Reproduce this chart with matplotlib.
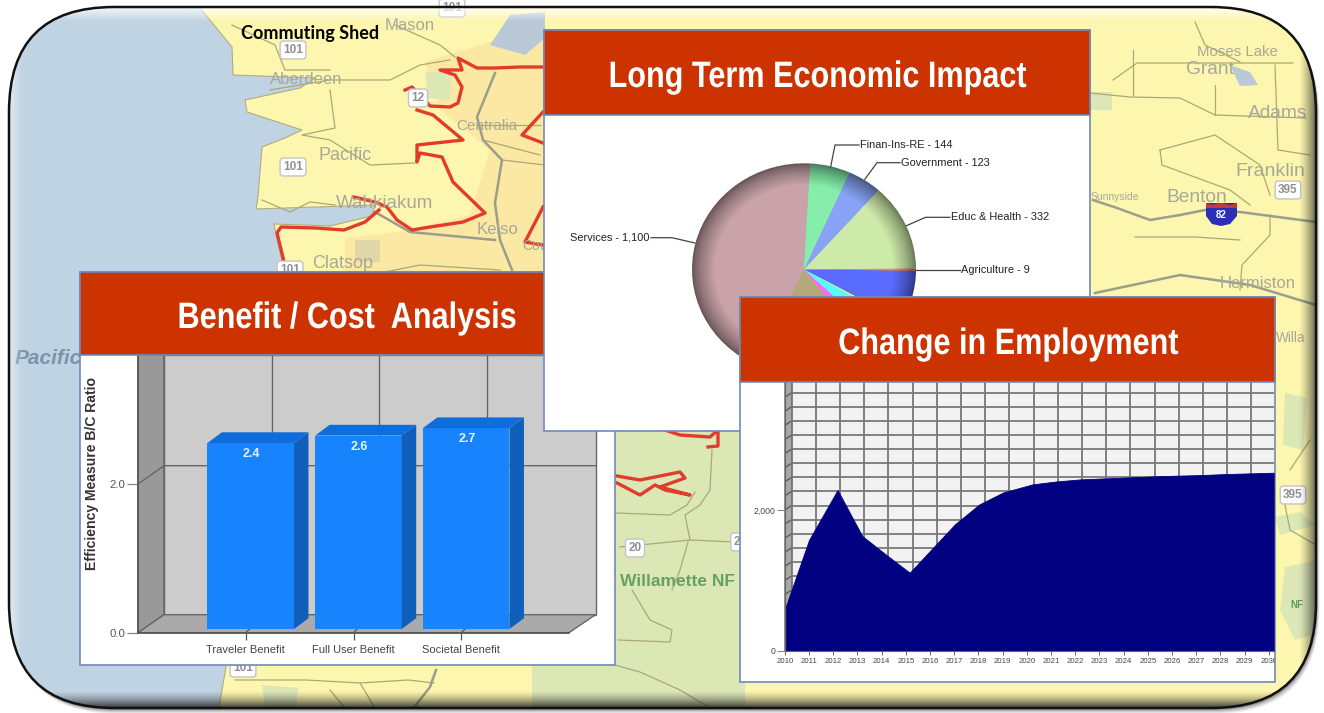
"""Commuting shed map with three overlaid result panels."""
import matplotlib
matplotlib.use("Agg")
import matplotlib.colors as mcolors
import matplotlib.patheffects as pe
import matplotlib.pyplot as plt
import numpy as np
from matplotlib.patches import FancyBboxPatch, Polygon, Rectangle
from matplotlib.transforms import Affine2D

W, H = 1324, 713

# --- chart data ---
BAR_CATEGORIES = ["Traveler Benefit", "Full User Benefit", "Societal Benefit"]
BAR_HEIGHTS = [2.5, 2.6, 2.7]
BAR_LABELS = ["2.4", "2.6", "2.7"]
BAR_YTICKS = [0.0, 2.0]

PIE_VALUES = [1100, 433, 59, 94, 10, 194, 9, 332, 123, 144]
PIE_COLORS = ["#c9a3a9", "#b5a97c", "#ff66ff", "#55fbff", "#f6f66a", "#5a6cff",
              "#ef7f5f", "#cdeaa9", "#88a3f5", "#84eeaa"]

EMP_YEARS = [2010.04, 2011, 2012.18, 2013.2, 2014.2, 2015.16, 2016.1, 2017.04, 2018.04,
             2019.03, 2020.24, 2021.24, 2022.23, 2023.23, 2024.22, 2025.22, 2026.2,
             2027.2, 2028.2, 2029.2, 2030.2]
EMP_VALUES = [629, 1574, 2284, 1631, 1362, 1111, 1456, 1801, 2080, 2250, 2364, 2406,
              2435, 2449, 2463, 2477, 2487, 2496, 2510, 2520, 2529]
EMP_TICK_YEARS = list(range(2010, 2031))

# pie callouts: text, leader points, text anchor
PIE_CALLOUTS = [
    ("Services - 1,100", [(695, 243), (672, 237.7), (651, 237.7)], "right"),
    ("Finan-Ins-RE - 144", [(830.7, 166.7), (835, 145), (859, 145)], "left"),
    ("Government - 123", [(864.8, 179.3), (877, 162.7), (900, 162.7)], "left"),
    ("Educ & Health - 332", [(906.5, 225.7), (925.6, 217.3), (950, 217.3)], "left"),
    ("Agriculture - 9", [(915.5, 270), (960.4, 270)], "left"),
]

# --- background map shapes (pixel positions) ---
OCEAN = [(0, 0), (200, 8), (232, 47), (233, 75), (315, 78), (300, 88), (245, 100), (247, 112),
         (302, 130), (285, 138), (262, 147), (258, 197), (256, 209), (375, 205), (372, 216),
         (330, 226), (274, 224), (284, 270), (270, 450), (226, 667), (218, 713), (0, 713)]
PEACH = [(425, 62), (545, 25), (545, 285), (345, 285), (345, 238), (400, 232), (470, 215),
         (490, 150), (440, 110)]
GREEN_ZONES = [
    [(532, 660), (600, 660), (615, 425), (745, 425), (745, 713), (532, 713)],
    [(1285, 393), (1307, 398), (1303, 450), (1283, 445)],
    [(1275, 517), (1300, 512), (1316, 525), (1280, 535)],
    [(1285, 567), (1320, 560), (1320, 633), (1295, 640), (1280, 610)],
    [(262, 685), (298, 688), (296, 708), (265, 708)],
    [(425, 72), (452, 72), (450, 100), (428, 98)],
    [(1080, 92), (1112, 92), (1112, 110), (1080, 110)],
]
WATER = [
    [(490, 45), (510, 15), (545, 12), (545, 38), (525, 55)],
    [(1230, 65), (1250, 72), (1258, 85), (1240, 86)],
]
TAN_ZONES = [[(355, 240), (380, 240), (380, 262), (355, 262)]]
RED_ROUTES = [
    [(543, 67), (520, 67), (495, 68), (477, 68), (458, 58), (462, 70), (440, 70), (455, 75),
     (462, 87), (458, 103), (450, 107), (430, 106), (420, 95), (412, 87), (405, 90)],
    [(417, 110), (433, 115), (463, 140), (417, 145), (417, 162), (420, 153), (442, 157),
     (453, 182), (485, 213), (463, 222), (430, 227), (412, 230), (397, 220), (387, 207),
     (375, 202), (354, 197)],
    [(379, 210), (365, 222), (344, 230), (316, 228), (281, 227), (277, 233), (286, 270)],
    [(543, 112), (522, 135), (543, 143)],
    [(543, 207), (525, 242), (543, 245)],
    [(665, 430), (680, 435), (710, 437), (718, 430), (718, 446), (708, 447)],
    [(617, 476), (640, 480), (680, 472), (685, 478), (660, 487), (690, 495), (665, 490),
     (655, 485), (640, 495), (617, 483)],
]
MAJOR_ROADS = [
    [(495, 73), (477, 117), (483, 140), (502, 160), (495, 203), (500, 240), (512, 270)],
    [(1093, 200), (1117, 208), (1150, 220), (1180, 215), (1205, 210), (1240, 212), (1316, 222)],
    [(1095, 293), (1180, 275), (1250, 285), (1316, 305)],
    [(436, 670), (430, 687), (412, 710)],
    [(375, 212), (410, 232), (495, 240)],
]
MINOR_ROADS = [
    [(232, 25), (275, 45), (285, 70), (330, 70)],
    [(270, 90), (330, 80), (390, 80), (420, 65), (450, 60)],
    [(330, 90), (335, 128), (302, 135), (330, 140), (370, 165), (415, 163)],
    [(262, 200), (290, 212), (310, 202), (335, 205)],
    [(395, 25), (440, 45), (455, 57)],
    [(285, 270), (345, 280), (420, 265), (500, 270)],
    [(477, 125), (540, 125)], [(483, 140), (540, 155)], [(502, 160), (545, 165)],
    [(1113, 80), (1137, 63), (1293, 63)],
    [(1080, 92), (1130, 97), (1180, 98), (1215, 115), (1306, 118)],
    [(1195, 22), (1205, 45), (1240, 62)],
    [(1160, 150), (1215, 135), (1260, 165), (1270, 195)],
    [(1160, 150), (1162, 165), (1230, 190), (1250, 205)],
    [(1133, 50), (1133, 95)], [(1215, 85), (1215, 115)], [(1275, 65), (1278, 150), (1310, 155)],
    [(1270, 215), (1270, 235), (1242, 265), (1240, 290)],
    [(1135, 237), (1195, 237), (1240, 240)],
    [(1290, 470), (1310, 440)], [(1285, 505), (1290, 530), (1316, 545)],
    [(615, 513), (670, 515), (687, 505), (695, 492)],
    [(620, 547), (690, 540), (735, 542)],
    [(690, 540), (685, 515), (700, 505), (710, 490), (712, 450)],
    [(688, 542), (680, 570), (672, 590)],
    [(632, 590), (650, 620), (672, 630), (670, 642), (618, 640)],
    [(615, 665), (640, 672), (680, 690), (710, 708)],
    [(235, 680), (306, 680), (360, 683), (408, 680), (434, 683)],
    [(330, 690), (345, 708)], [(360, 683), (375, 708)],
]
MAP_LABELS = [
    ("Pacific", 345, 155, 13), ("Wahkiakum", 385, 204, 13.5), ("Aberdeen", 306, 80, 12),
    ("Mason", 410, 25, 12), ("Centralia", 487, 126, 11), ("Clatsop", 343, 263, 13),
    ("Moses Lake", 1237, 52, 10.8), ("Grant", 1210, 70, 13.8), ("Adams", 1278, 113, 13.8),
    ("Franklin", 1270, 171, 14), ("Benton", 1197, 197, 13.8), ("Hermiston", 1258, 284, 12),
    ("Kelso", 497, 229, 12), ("Sunnyside", 1115, 197, 7.5), ("Cowlitz", 545, 246, 10),
    ("Willa", 1291, 338, 9.8),
]
MAP_SHIELDS = [("101", 293, 50), ("101", 293, 167), ("12", 418, 98), ("101", 290, 270),
               ("101", 452, 8), ("395", 1293, 495), ("395", 1288, 190), ("20", 635, 548),
               ("2", 737, 542), ("101", 243, 668)]

HEADER_RED = "#cc3300"
BORDER = "#7189ba"
SANS = "Liberation Sans"

fig = plt.figure(figsize=(W / 100, H / 100), dpi=100, facecolor="white")


class Squeeze(pe.AbstractPathEffect):
    """Narrow a text horizontally around a pixel column, it stays a text."""

    def __init__(self, sx, cx):
        super().__init__()
        self.sx = sx
        self.cx = cx

    def draw_path(self, renderer, gc, tpath, affine, rgbFace=None):
        squeezed = affine + Affine2D().translate(-self.cx, 0).scale(self.sx, 1).translate(self.cx, 0)
        renderer.draw_path(gc, tpath, squeezed, rgbFace)


def px_axes(x0, y0, x1, y1, zorder):
    """Axes placed by pixel box (y downward)."""
    ax = fig.add_axes([x0 / W, 1 - y1 / H, (x1 - x0) / W, (y1 - y0) / H], zorder=zorder)
    return ax


def darken(color, factor):
    return tuple(np.array(mcolors.to_rgb(color)) * factor)


# --- background map ---
bg = px_axes(0, 0, W, H, 0)
bg.set_xlim(0, W)
bg.set_ylim(H, 0)
bg.axis("off")
frame = FancyBboxPatch((9, 7), 1307, 701, boxstyle="round,pad=0,rounding_size=105",
                       fc="none", ec="none", transform=bg.transData)
bg.add_patch(frame)

for off, alpha in [(6, 0.05), (5, 0.07), (4, 0.09), (3, 0.12), (2, 0.16)]:
    bg.add_patch(FancyBboxPatch((9 + off * 0.6, 7 + off), 1307, 701,
                                boxstyle="round,pad=0,rounding_size=105",
                                fc="black", ec="none", alpha=alpha))

clipped = [Rectangle((0, 0), W, H, fc="#fdf6ae", ec="none", zorder=1)]
clipped.append(Polygon(PEACH, fc="#fbe8a2", ec="none", zorder=1.2))
for poly in GREEN_ZONES:
    clipped.append(Polygon(poly, fc="#dce7b6", ec="none", zorder=1.3))
for poly in TAN_ZONES:
    clipped.append(Polygon(poly, fc="#e2d7aa", ec="none", zorder=1.3))
clipped.append(Polygon(OCEAN, fc="#bfd3e2", ec="#b3ab7c", lw=0.8, zorder=1.4))
for poly in WATER:
    clipped.append(Polygon(poly, fc="#b9c9d8", ec="none", zorder=1.4))
for artist in clipped:
    bg.add_patch(artist)
    artist.set_clip_path(frame)

for road in MINOR_ROADS:
    xs, ys = zip(*road)
    line, = bg.plot(xs, ys, color="#aca875", lw=0.9, zorder=2)
    line.set_clip_path(frame)
for road in MAJOR_ROADS:
    xs, ys = zip(*road)
    line, = bg.plot(xs, ys, color="#9b9e8c", lw=1.8, zorder=2.2)
    line.set_clip_path(frame)
for route in RED_ROUTES:
    xs, ys = zip(*route)
    bg.plot(xs, ys, color="#e23b2c", lw=2.4, zorder=3, solid_joinstyle="round")

for name, x, y, size in MAP_LABELS:
    t = bg.text(x, y, name, fontsize=size, color="#a8a89a", ha="center", va="center", zorder=4,
                family=SANS)
    t.set_clip_path(frame)
bg.text(15, 358, "Pacific", fontsize=15, color="#7d93ad", style="italic", ha="left",
        va="center", weight="bold", zorder=4, family=SANS)
bg.text(678, 581, "Willamette NF", fontsize=12.5, color="#68a068", weight="bold", ha="center",
        va="center", zorder=4, family=SANS)
bg.text(1297, 605, "NF", fontsize=7, color="#5c9a5c", weight="bold", ha="center", va="center",
        zorder=4, family=SANS)
for name, x, y in MAP_SHIELDS:
    t = bg.text(x, y, name, fontsize=8.5, color="#909090", weight="bold", ha="center", va="center",
                zorder=4.5, family=SANS,
                bbox=dict(boxstyle="round,pad=0.25", fc="white", ec="#c4c4c4", lw=1.0))
    t.set_clip_path(frame)
bg.add_patch(Polygon([(1206, 203), (1237, 203), (1237, 216), (1230, 224), (1221, 226), (1212, 224), (1206, 216)],
                     fc="#2a2fb5", ec="none", zorder=4.5))
bg.add_patch(Polygon([(1206, 203), (1212, 205), (1221, 203), (1230, 205), (1237, 203), (1237, 208), (1206, 208)],
                     fc="#c43a3a", ec="none", zorder=4.6))
bg.text(1221, 215, "82", fontsize=7, color="white", weight="bold", ha="center", va="center", zorder=5,
        family=SANS)
bg.text(310, 33, "Commuting Shed", fontsize=13, weight="bold", color="black", ha="center",
        va="center", zorder=5, family="Lato")

# glass edge shading, clipped to the frame
yy, xx = np.mgrid[0:H, 0:W]
shade = np.zeros((H, W, 4))
hi = np.clip(1 - (yy - 8) / 13, 0, 1) * 0.75 + np.clip(1 - (xx - 10) / 12, 0, 1) * 0.5
hi = np.clip(hi, 0, 0.85)
dark = np.clip((yy - 690) / 18, 0, 1) ** 1.4 * 0.9 + np.clip((xx - 1298) / 18, 0, 1) ** 1.4 * 0.7
dark = np.clip(dark, 0, 0.95)
shade[..., :3] = np.where((dark > hi)[..., None], 0.12, 1.0)
shade[..., 3] = np.maximum(hi, dark)
im = bg.imshow(shade, extent=(0, W, H, 0), zorder=6, aspect="auto", interpolation="bilinear")
im.set_clip_path(frame)
bg.set_xlim(0, W)
bg.set_ylim(H, 0)
bg.add_patch(FancyBboxPatch((9, 7), 1307, 701, boxstyle="round,pad=0,rounding_size=105",
                            fc="none", ec="#111111", lw=1.8, zorder=7))


def panel(x0, y0, x1, y1, header_bottom, title, title_x, title_y, zorder):
    ax = px_axes(0, 0, W, H, zorder)
    ax.set_xlim(0, W)
    ax.set_ylim(H, 0)
    ax.axis("off")
    ax.patch.set_alpha(0)
    ax.add_patch(Rectangle((x0, y0), x1 - x0, y1 - y0, fc="white", ec=BORDER, lw=1.2))
    top = px_axes(0, 0, W, H, zorder + 0.6)
    top.set_xlim(0, W)
    top.set_ylim(H, 0)
    top.axis("off")
    top.patch.set_alpha(0)
    top.add_patch(Rectangle((x0, y0), x1 - x0, header_bottom - y0, fc=HEADER_RED, ec=BORDER, lw=1.2))
    top.text(title_x, title_y + 2.5, title, color="white", fontsize=26.5, weight="bold", ha="center",
             va="center", family=SANS, path_effects=[Squeeze(0.832, title_x)])
    return ax


# --- benefit / cost panel ---
bar_panel = panel(80, 272, 615, 665, 355, "Benefit / Cost  Analysis", 347, 316, 1)
bar_panel.add_patch(Polygon([(138, 632.7), (164, 614.7), (164, 355), (138, 355)], fc="#999999", ec="#666666", lw=1))
bar_panel.add_patch(Rectangle((164, 355), 431.5, 259.7, fc="#cccccc", ec="#666666", lw=1))
bar_panel.add_patch(Polygon([(138, 632.7), (569, 632.7), (595.5, 614.7), (164, 614.7)], fc="#aaaaaa", ec="#666666", lw=1))
for gx in (271.5, 379, 487):
    bar_panel.plot([gx, gx], [355, 614.7], color="#666666", lw=1)
bar_panel.plot([138, 164, 595.5], [484, 465.7, 465.7], color="#666666", lw=1)

ax_bar = px_axes(138, 355, 569, 632.7, 1.3)
ax_bar.patch.set_alpha(0)
ax_bar.set_xlim(-1, 3)
ax_bar.set_ylim(0, 277.7 / 74.4)
x_pos = np.arange(len(BAR_CATEGORIES))
DX, DY = 14.5 / 107.75, 10.7 / 74.4
BASE = 0.05
for pos, h, lab in zip(x_pos, BAR_HEIGHTS, BAR_LABELS):
    c = pos + 0.046
    ax_bar.bar(c, h, width=0.803, bottom=BASE, color="#1784fe", zorder=3)
    left, right, top_y = c - 0.4015, c + 0.4015, BASE + h
    ax_bar.add_patch(Polygon([(left, top_y), (right, top_y), (right + DX, top_y + DY), (left + DX, top_y + DY)],
                             fc="#0f6cdb", ec="none", zorder=3))
    ax_bar.add_patch(Polygon([(right, BASE), (right + DX, BASE + DY), (right + DX, top_y + DY), (right, top_y)],
                             fc="#1060bb", ec="none", zorder=3))
    ax_bar.annotate(lab, (c, top_y), xytext=(1, -11), textcoords="offset pixels", color="#e8f2ff",
                    fontsize=9, weight="bold", ha="center", va="center", zorder=4, family=SANS)
    ax_bar.plot([pos, pos + 8 / 107.75], [0, 8 / 74.4], color="#555555", lw=0.9, zorder=2)
for s in ("top", "right"):
    ax_bar.spines[s].set_visible(False)
for s in ("left", "bottom"):
    ax_bar.spines[s].set_color("#555555")
    ax_bar.spines[s].set_linewidth(1.2)
ax_bar.set_xticks(x_pos)
ax_bar.set_xticklabels(BAR_CATEGORIES, fontsize=8.0, color="#444444", family=SANS)
ax_bar.set_yticks(BAR_YTICKS)
ax_bar.set_yticklabels([f"{v:.1f}" for v in BAR_YTICKS], fontsize=8.2, color="#555555", family=SANS)
ax_bar.tick_params(axis="x", length=5, width=0.9, color="#555555", pad=3.5)
ax_bar.tick_params(axis="y", length=8, width=0.9, color="#888888", pad=1)
bar_panel.text(92, 474, "Efficiency Measure B/C Ratio", rotation=90, fontsize=10.1, weight="bold",
               color="#333333", ha="center", va="center", family=SANS)

# --- pie panel ---
pie_panel = panel(544, 30, 1090, 431, 115, "Long Term Economic Impact", 817, 75, 2)
ax_pie = px_axes(692, 163.3, 916, 375.3, 2.3)
ax_pie.patch.set_alpha(0)
for k in range(15):
    t = k / 14
    radius = 1 - 0.2 * t
    factor = 0.52 + 0.48 * t ** 0.75
    ax_pie.pie(PIE_VALUES, colors=[darken(c, factor) for c in PIE_COLORS], startangle=86.8,
               radius=radius, wedgeprops=dict(linewidth=0))
ax_pie.pie(PIE_VALUES, colors=PIE_COLORS, startangle=86.8, radius=0.79, wedgeprops=dict(linewidth=0))
ax_pie.set_aspect("auto")
ax_pie.set_xlim(-1, 1)
ax_pie.set_ylim(-1, 1)
pie_over = px_axes(0, 0, W, H, 2.4)
pie_over.set_xlim(0, W)
pie_over.set_ylim(H, 0)
pie_over.axis("off")
for text, pts, ha in PIE_CALLOUTS:
    xs, ys = zip(*pts)
    pie_over.plot(xs, ys, color="#444444", lw=0.9)
    tx = xs[-1] + (1 if ha == "left" else -1)
    pie_over.text(tx, ys[-1], text, fontsize=7.95, color="#222222", ha=ha, va="center", family=SANS)

# --- employment panel ---
emp_panel = panel(740, 297, 1275, 682, 382, "Change in Employment", 1008, 342, 3)
emp_panel.add_patch(Polygon([(784.8, 651), (791.6, 646.5), (791.6, 382), (784.8, 382)], fc="#a8a8a8", ec="#777777", lw=0.8))
emp_panel.add_patch(Rectangle((791.6, 382), 482, 264.5, fc="#f2f2f2", ec="none"))

ax_emp = px_axes(784.8, 382, 1273.7, 651, 3.3)
ax_emp.patch.set_alpha(0)
ax_emp.set_xlim(2010, 2030.2)
ax_emp.set_ylim(0, 3816)
for year in EMP_TICK_YEARS:
    ax_emp.axvline(year + 0.28, color="#777777", lw=1.3, zorder=1)
for level in range(0, 3801, 200):
    ax_emp.plot([2010, 2010.28], [level, level + 64], color="#555555", lw=0.9, zorder=1)
    ax_emp.plot([2010.28, 2030.2], [level + 64, level + 64], color="#7a7a7a", lw=1.3, zorder=1)
ax_emp.fill_between(EMP_YEARS, EMP_VALUES, 0, color="#000080", lw=0.6, zorder=2)
for s in ("top", "right"):
    ax_emp.spines[s].set_visible(False)
for s in ("left", "bottom"):
    ax_emp.spines[s].set_color("#666666")
ax_emp.set_xticks(EMP_TICK_YEARS)
ax_emp.set_xticklabels([str(y) for y in EMP_TICK_YEARS], fontsize=5.6, color="#444444", family=SANS)
ax_emp.set_yticks([0, 2000])
ax_emp.set_yticklabels(["0", "2,000"], fontsize=6.2, color="#444444", family=SANS)
ax_emp.tick_params(axis="x", length=3, width=0.7, color="#666666", pad=2)
ax_emp.tick_params(axis="y", length=6, width=0.8, color="#888888", pad=1)
edge_clip = Rectangle((740, 297), 535, 385, transform=emp_panel.transData)
for label in ax_emp.get_xticklabels():
    label.set_clip_on(True)
    label.set_clip_path(edge_clip)

fig.savefig("out.png", dpi=100)
